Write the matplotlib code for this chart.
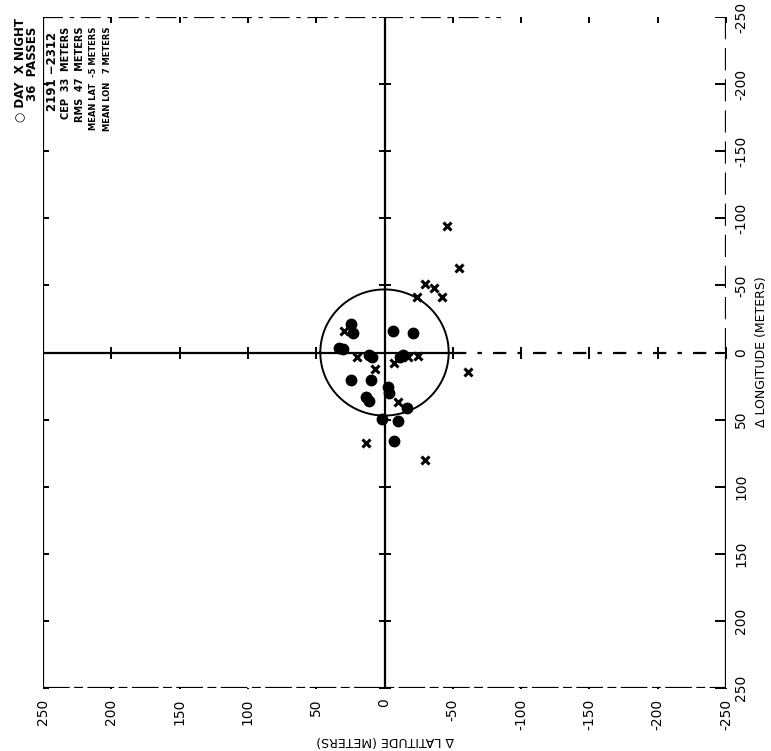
import numpy as np
import matplotlib
matplotlib.use("Agg")
import matplotlib.pyplot as plt
from matplotlib.transforms import blended_transform_factory

# Position fixes relative to the surveyed point, metres
day_lat = [33.5, 30.5, 24.4, 23.2, -6.1, -20.7, 11.7, 9.5, -11.0, -13.2,
           24.4, 10.2, -2.4, -3.1, 13.4, 11.0, -16.6, 1.7, -9.7, -6.8]
day_lon = [-3.7, -2.5, -21.6, -14.2, -15.9, -14.2, 1.5, 3.0, 3.2, 2.2,
           20.6, 20.6, 25.6, 30.0, 33.0, 36.3, 41.7, 49.2, 50.9, 65.6]

night_lat = [29.8, 20.3, -17.1, -24.4, -6.8, 6.6, -9.7, -23.6, -29.8, -36.1,
             -42.1, -45.9, -54.2, -61.0, 13.9, -29.3]
night_lon = [-16.2, 3.2, 3.7, 2.8, 7.7, 12.4, 36.7, -41.5, -51.4, -47.7,
             -41.2, -94.1, -63.3, 14.4, 67.1, 80.1]

rms_radius = 47
tick_values = [250, 200, 150, 100, 50, 0, -50, -100, -150, -200, -250]
tick_labels = ["250", "200", "150", "100", "50", "0", "-50", "-100", "-150", "-200", "-250"]

# text, x (px), top (px), font size
summary_lines = [
    ("\u25cb DAY  X NIGHT", 20, 18, 8.5),
    ("36  PASSES", 33, 27, 8.5),
    ("2191 \u22122312", 52, 32, 8.5),
    ("CEP  33  METERS", 66, 27, 7),
    ("RMS  47  METERS", 80, 27, 7),
    ("MEAN LAT  -5 METERS", 94, 27, 6),
    ("MEAN LON   7 METERS", 107, 27, 6),
]

W, H = 771, 751
fig = plt.figure(figsize=(W / 100, H / 100), dpi=100)
ax = fig.add_axes([43 / W, 1 - 688 / H, 683 / W, 671 / H])
ax.set_xlim(250, -250)
ax.set_ylim(250, -250)
ax.axis("off")

k = "black"
lw = 1.6

# Frame
ax.plot([250, 250], [-250, 250], color=k, lw=lw, solid_capstyle="butt")
ax.plot([250, -85], [-250, -250], color=k, lw=lw, linestyle=(0, (9, 3, 2, 3)))
ax.plot([-250, -250], [-250, 0], color=k, lw=lw, linestyle=(0, (10, 4)))
ax.plot([-250, -250], [0, 250], color=k, lw=lw)
ax.plot([250, -250], [250, 250], color=k, lw=lw, linestyle=(0, (12, 2, 4, 2)))

# Crosshair through the origin
ax.plot([0, 0], [-250, 250], color=k, lw=lw)
ax.plot([250, -50], [0, 0], color=k, lw=lw)
ax.plot([-50, -250], [0, 0], color=k, lw=lw, linestyle=(0, (6, 5, 2, 5)))

# Tick marks
tv = np.array(tick_values)
tsz = 8
ax.plot(np.full_like(tv, 250), tv, ls="none", marker="_", ms=tsz, mew=1.4, color=k)
ax.plot(tv, np.full_like(tv, -250), ls="none", marker="|", ms=tsz, mew=1.4, color=k)
ax.plot(tv, np.full_like(tv, 250), ls="none", marker=3, ms=tsz, mew=1.4, color=k)
ax.plot(np.full_like(tv, -250), tv, ls="none", marker=0, ms=tsz, mew=1.4, color=k)
ax.plot(np.zeros_like(tv), tv, ls="none", marker="_", ms=tsz, mew=1.4, color=k)
ax.plot(tv, np.zeros_like(tv), ls="none", marker="|", ms=tsz, mew=1.4, color=k)

# RMS circle
th = np.linspace(0, 2 * np.pi, 400)
ax.plot(rms_radius * np.cos(th), rms_radius * np.sin(th), color=k, lw=1.4)

# Fixes
ax.plot(day_lat, day_lon, ls="none", marker="o", ms=7.5, color=k, mec=k)
ax.plot(night_lat, night_lon, ls="none", marker="x", ms=6, mew=2.2, color=k)

# Tick labels
bt = blended_transform_factory(ax.transData, ax.transAxes)
for v, s in zip(tick_values, tick_labels):
    ax.text(v, -0.016, s, transform=bt, rotation=90, ha="center", va="top",
            fontsize=10, color=k)
rt = blended_transform_factory(ax.transAxes, ax.transData)
for v, s in zip(tick_values[::-1], tick_labels[::-1]):
    ax.text(1.012, v, s, transform=rt, rotation=90, ha="left", va="center",
            fontsize=10, color=k)

fig.text(385 / W, 1 - 741 / H, "\u0394 LATITUDE (METERS)", rotation=180,
         ha="center", va="center", fontsize=9, color=k)
fig.text(762 / W, 1 - 352 / H, "\u0394 LONGITUDE (METERS)", rotation=90,
         ha="center", va="center", fontsize=9, color=k)

for s, x, ytop, fs in summary_lines:
    fig.text(x / W, 1 - ytop / H, s, rotation=90, ha="center", va="top",
             fontsize=fs, color=k, fontweight="bold")

fig.savefig("out.png", dpi=100, facecolor="white")
